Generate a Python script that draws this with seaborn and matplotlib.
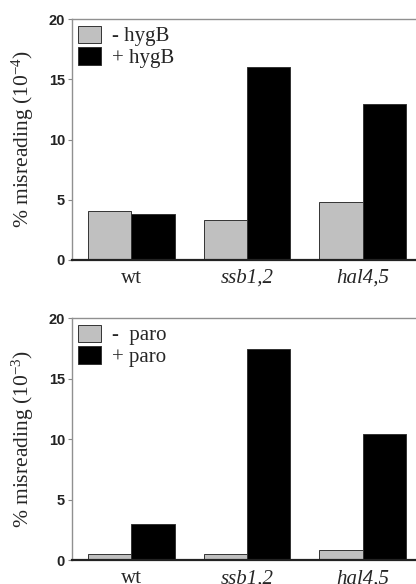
import matplotlib
matplotlib.use("Agg")
import matplotlib.pyplot as plt
import pandas as pd
import seaborn as sns

strains = ["wt", "ssb1,2", "hal4,5"]
hyg_minus = [4.1, 3.35, 4.85]
hyg_plus = [3.85, 16.0, 12.95]
paro_minus = [0.5, 0.5, 0.85]
paro_plus = [3.0, 17.5, 10.4]

GRAY = "#c0c0c0"
SERIF = ["Liberation Serif", "DejaVu Serif"]

sns.set_style("white")
plt.rcParams["font.family"] = ["Liberation Sans", "DejaVu Sans"]
plt.rcParams["mathtext.fontset"] = "custom"
plt.rcParams["mathtext.rm"] = "Liberation Serif"
plt.rcParams["mathtext.it"] = "Liberation Serif:italic"


def panel(ax, minus, plus, drug, exp):
    df = pd.DataFrame({
        "strain": strains * 2,
        "value": minus + plus,
        "cond": [f"-  {drug}" if drug == "paro" else f"- {drug}"] * 3 + [f"+ {drug}"] * 3,
    })
    labels = df["cond"].unique()
    sns.barplot(df, x="strain", y="value", hue="cond", width=0.75,
                palette={labels[0]: GRAY, labels[1]: "black"},
                edgecolor="#333333", linewidth=0.7, ax=ax)
    ax.set_xlim(-0.515, 2.49)
    ax.set_ylim(0, 20)
    ax.set_yticks([0, 5, 10, 15, 20])
    ax.set_xlabel("")
    ax.set_ylabel(f"% misreading (10$^{{{exp}}}$)", family=SERIF, fontsize=15.5, labelpad=9)
    for lab in ax.get_yticklabels():
        lab.set_fontsize(10.5)
        lab.set_fontweight("bold")
        lab.set_color("#222222")
    ax.tick_params(axis="y", left=True, length=3, width=0.8, color="#888888", pad=2)
    ax.tick_params(axis="x", bottom=False, pad=3)
    ax.set_xticks(range(3))
    ax.set_xticklabels(strains, family=SERIF, fontsize=15)
    ax.get_xticklabels()[1].set_style("italic")
    ax.get_xticklabels()[2].set_style("italic")
    for s in ["left", "top"]:
        ax.spines[s].set_color("#909090")
        ax.spines[s].set_linewidth(1.0)
    ax.spines["bottom"].set_color("#222222")
    ax.spines["bottom"].set_linewidth(1.6)
    ax.spines["right"].set_visible(False)
    handles, texts = ax.get_legend_handles_labels()
    ax.legend(handles, texts, loc="upper left", frameon=False,
              prop={"family": SERIF, "size": 15}, handlelength=1.1,
              handleheight=0.9, handletextpad=0.5, labelspacing=0.05,
              borderaxespad=0.2, borderpad=0.1)


fig = plt.figure(figsize=(4.16, 5.84), dpi=100)
ax1 = fig.add_axes([0.173, 0.555, 0.835, 0.412])
ax2 = fig.add_axes([0.173, 0.041, 0.835, 0.414])
panel(ax1, hyg_minus, hyg_plus, "hygB", "-4")
panel(ax2, paro_minus, paro_plus, "paro", "-3")

fig.savefig("out.png", dpi=100)
